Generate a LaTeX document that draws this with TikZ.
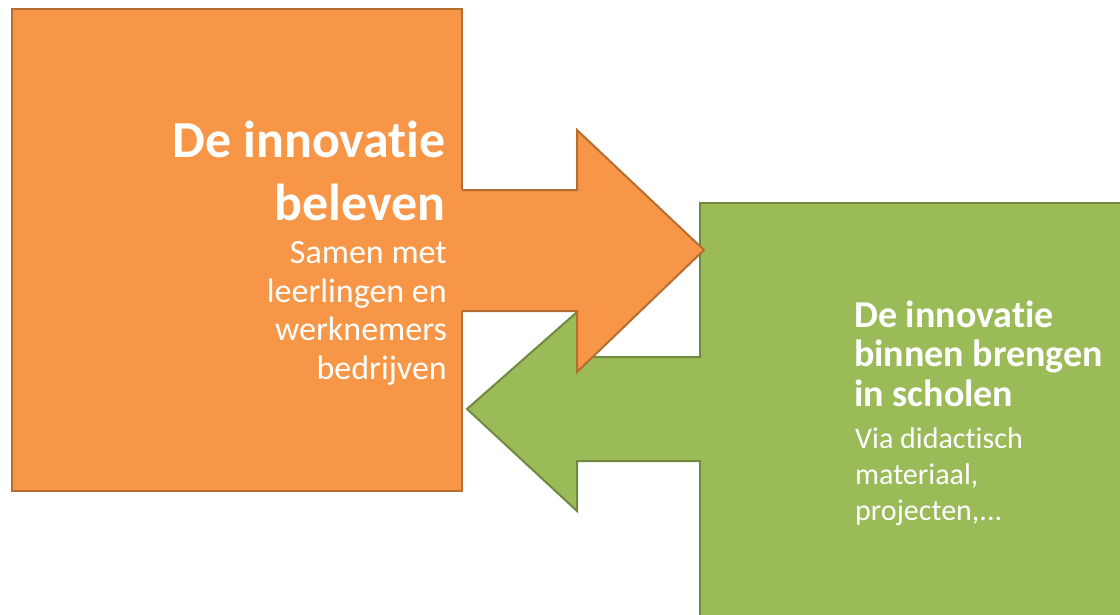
\documentclass[tikz,border=0pt]{standalone}
\usepackage{fontspec}
\setmainfont{Carlito}[Ligatures=NoCommon]
\usepackage{tikz}

\definecolor{orfill}{HTML}{F79646}
\definecolor{ordraw}{HTML}{B66D31}
\definecolor{grfill}{HTML}{9BBB59}
\definecolor{grdraw}{HTML}{71893F}

\begin{document}
\begin{tikzpicture}[x=1pt, y=-1pt,
  orangepart/.style={fill=orfill, draw=ordraw, line width=2pt},
  greenpart/.style={fill=grfill, draw=grdraw, line width=2pt},
  titletext/.style={text=white, inner sep=0pt, font=\bfseries\fontsize{52}{63}\selectfont},
  subtext/.style={text=white, inner sep=0pt, font=\fontsize{34}{38.5}\selectfont}]
\useasboundingbox (0,0) rectangle (1120,614);
\clip (0,0) rectangle (1120,614);
% green block and its arrow
\draw[greenpart] (700,203) rectangle (1130,630);
\fill[grfill] (702,357) -- (577,357) -- (577,312) -- (467,409) -- (577,511) -- (577,461) -- (702,461) -- cycle;
\draw[grdraw, line width=2pt, line join=miter] (701,357) -- (577,357) -- (577,312) -- (467,409) -- (577,511) -- (577,461) -- (701,461);
% orange block and its arrow
\draw[orangepart] (12,9) rectangle (462,491);
\fill[orfill] (461,190) -- (577,190) -- (577,130) -- (704,250) -- (577,372) -- (577,311) -- (461,311) -- cycle;
\draw[ordraw, line width=2pt, line join=miter] (462,190) -- (577,190) -- (577,130) -- (704,250) -- (577,372) -- (577,311) -- (462,311);
% texts (base = last line)
\node[titletext, anchor=base east, align=right] (beleven) at (446,220) {De innovatie\\beleven};
\node[subtext, anchor=base east, align=right] (samen) at (447,379) {Samen met\\leerlingen en\\werknemers\\bedrijven};
\node[titletext, font=\bfseries\fontsize{38}{39.5}\selectfont, anchor=base west, align=left] (brengen) at (854,406) {De innovatie\\binnen brengen\\in scholen};
\node[subtext, font=\fontsize{30}{36}\selectfont, anchor=base west, align=left] (didactisch) at (855,520) {Via didactisch\\materiaal,\\projecten,...};
\end{tikzpicture}
\end{document}
